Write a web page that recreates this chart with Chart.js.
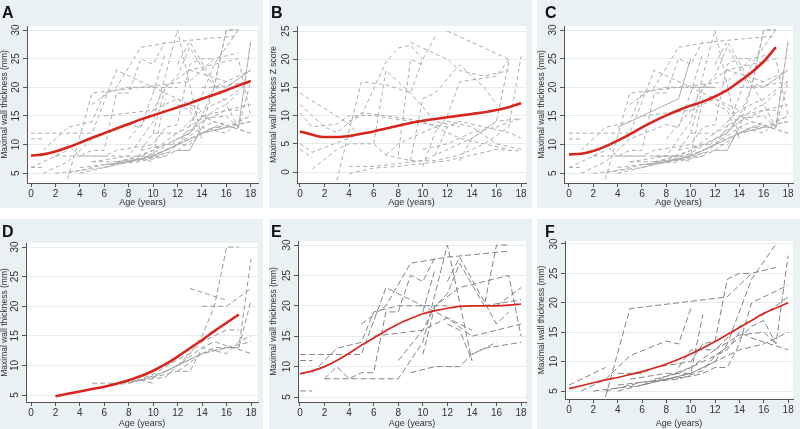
<!DOCTYPE html>
<html><head><meta charset="utf-8">
<script src="https://cdn.jsdelivr.net/npm/chart.js@4/dist/chart.umd.min.js"></script>
<style>
html,body{margin:0;padding:0;background:#fff;width:800px;height:429px;overflow:hidden;font-family:"Liberation Sans",Arial,sans-serif}
.panel{position:absolute;background:#eaf1f3}
.panel canvas{position:absolute;left:0;top:0}
.lbl{position:absolute;font-weight:bold;font-size:16px;color:#111;line-height:1;font-family:"Liberation Sans",Arial,sans-serif}
</style></head><body>
<div id="root"></div>
<script>
// ---------- data ----------
const xTicks = [0,2,4,6,8,10,12,14,16,18];
const yTicksMM = [5,10,15,20,25,30];
const yTicksZ = [0,5,10,15,20,25];
const xTitle = 'Age (years)';
const yTitleMM = 'Maximal wall thickness (mm)';
const yTitleZ = 'Maximal wall thickness Z score';

// individual patient trajectories [age, value]
const linesD = [
  [[5,7],[7,7],[9,7.5],[10,7]],
  [[6,6.5],[8,7],[10,8],[12,9],[13,9],[14,13],[15,14],[18,12]],
  [[7,7],[9,7.5],[11,9],[12,10],[14,14],[15,15],[16,16],[17,16]],
  [[8,7],[10,8.5],[12,11],[13,12],[14,15],[15,20],[16,30],[17,30]],
  [[9,7.5],[11,8],[12,10],[14,12],[16,13],[17,13],[18,28]],
  [[13,23],[16,21]],
  [[14,20],[16,20],[18,23]],
  [[10,8],[12,10],[14,13],[16,12],[17,14],[18,15]],
  [[11,9],[13,11],[15,13],[17,13],[18,21]],
  [[12,9],[14,12],[16,13],[18,14]]
];
const linesE = [
  [[0,12],[5,12],[7,23],[14,16]],
  [[0,11],[1,11]],
  [[0,6],[1,6]],
  [[1,9],[3,13],[5,14],[6,19],[8,20],[12,20]],
  [[2,8],[3,10],[4,8],[5,9],[6,9],[7,19],[8,19],[9,25],[10,24],[11,28]],
  [[2,8],[8,8],[10,14],[12,30],[14,11]],
  [[5,17],[7,20],[9,27],[12,28],[17,29]],
  [[8,11],[10,16],[11,20],[13,23],[17,25],[18,15]],
  [[9,9],[11,10],[13,10],[14,12],[15,13],[18,14]],
  [[10,12],[11,20],[12,22],[13,27],[15,20],[16,30],[17,30]],
  [[6,15],[10,16],[12,18],[14,15],[18,17]],
  [[12,17],[13,16],[14,11]],
  [[12,24],[13,28],[16,17],[17,19]],
  [[14,12],[16,14]],
  [[16,20],[18,23]],
  [[15,20],[18,21]],
  [[10,19],[11,26]]
];
const linesF = [
  [[0,6],[3,9]],
  [[1,5],[3,7],[5,11],[8,13.5],[9,13],[10,19]],
  [[3,4],[5,19],[13,21],[15,25],[17,26]],
  [[2,5],[4,5.5],[6,6],[8,7],[10,8],[12,10],[13,13],[15,24],[17,30]],
  [[3,5],[6,6.5],[8,7],[10,7.5],[11,8],[12,9],[13,9],[14,13],[15,20],[18,23]],
  [[4,8],[6,8],[7,9],[10,10],[11,13],[12,13.5],[13,24],[14,25],[15,25]],
  [[5,7],[8,8],[10,8],[11,18]],
  [[4,6],[6,6.5],[9,7],[11,8.5],[12,11],[14,14],[15,16],[16,17],[17,13],[18,28]],
  [[4,5],[7,6.5],[9,7.5],[10,8],[12,10],[14,12],[16,13],[18,15]],
  [[6,6],[8,7.5],[10,9],[12,11],[13,12],[14,15],[15,14],[18,12]],
  [[7,7],[9,8],[10,9],[12,12],[14,16],[16,18],[18,21]],
  [[9,9],[10,12],[12,12],[14,14.5],[16,15],[17,13]]
];
const solidC = [
  [[4,13],[9,18],[10,25]],
  [[7,8],[9,8]],
  [[10,20],[12,20]]
];
const linesB = [
  [[0,14],[4,8.5],[5,6]],
  [[0,12],[2,8],[3,7],[5,10.5],[7,10],[10,9],[13,6],[15,5],[17,4]],
  [[0,10.5],[1,8],[3,8.5],[4,10],[6,10],[9,9],[12,8]],
  [[0,5],[1,3.5],[4,6],[5,7]],
  [[0,4],[1,2.5]],
  [[1,0.5],[3,4],[4,5],[6,5],[7,3],[9,2],[11,2],[13,3],[15,5],[17,8],[18,20.5]],
  [[3,-1.5],[5,16],[7,15.5],[9,14],[10,20],[11,24]],
  [[4,1],[6,1],[8,1.5],[10,2],[12,4],[14,6],[16,9],[18,9.5]],
  [[4,-0.3],[6,0.7],[8,1],[10,1.5],[12,2],[14,3],[16,4],[18,3.7]],
  [[4,9],[5,10],[7,19.5],[8,22],[9,22.5],[10,20]],
  [[6,5],[7,18],[9,14],[11,9],[13,8]],
  [[9,23],[12,20],[13,18],[15,17],[17,18]],
  [[12,25],[17,20]],
  [[9,2],[10,13],[11,14],[13,19],[15,15],[16,12]],
  [[10,1],[11,7],[12,10],[13,16],[16,17],[17,20]],
  [[11,3],[12,8],[13,9],[15,8],[17,7],[18,6]],
  [[10,4],[12,5],[14,7],[16,8],[18,9.5]],
  [[8,3],[9,20],[10,19]],
  [[13,2],[14,6],[16,9],[17,19.5]],
  [[7,3],[8,5],[10,7],[12,9],[14,8],[16,5],[18,4]]
];

// fitted mean curves (red)
const agesA = [0,1,2,3,4,5,6,7,8,9,10,11,12,13,14,15,16,17,18];
const redA = [8.1,8.3,8.8,9.5,10.3,11.2,12.0,12.8,13.6,14.4,15.1,15.8,16.5,17.2,18.0,18.7,19.5,20.3,21.1];
const agesB = [0,1,2,3,4,5,6,7,8,9,10,11,12,13,14,15,16,17,18];
const redB = [7.2,6.6,6.2,6.2,6.4,6.8,7.2,7.7,8.2,8.7,9.1,9.4,9.7,10.0,10.3,10.6,11.0,11.5,12.2];
const agesC = [0,1,2,3,4,5,6,7,8,9,10,11,12,13,14,15,16,17];
const redC = [8.3,8.4,8.9,9.7,10.7,11.8,13.0,14.1,15.1,16.0,16.8,17.5,18.4,19.5,21.0,22.6,24.5,27.0];
const agesD = [2,3,4,5,6,7,8,9,10,11,12,13,14,15,16,17];
const redD = [4.8,5.2,5.6,6.0,6.4,6.9,7.5,8.2,9.1,10.2,11.5,12.9,14.3,15.8,17.2,18.6];
const agesE = [0,1,2,3,4,5,6,7,8,9,10,11,12,13,14,15,16,17,18];
const redE = [8.8,9.3,10.0,11.0,12.2,13.5,14.7,15.9,17.0,17.9,18.7,19.2,19.6,19.9,20.0,20.0,20.0,20.1,20.3];
const agesF = [0,1,2,3,4,5,6,7,8,9,10,11,12,13,14,15,16,17,18];
const redF = [5.4,5.9,6.4,6.9,7.3,7.8,8.3,8.9,9.6,10.4,11.3,12.3,13.4,14.6,15.8,17.0,18.2,19.1,20.0];

// ---------- layout ----------
const panels = [
  {id:'A', pos:[0,0,263,208], area:[27,26,258,183], x:[-0.33,18.6], y:[3.3,30.7], yt:yTicksMM, title:yTitleMM,
   grey:[...linesD,...linesE,...linesF], solid:[], ages:agesA, red:redA, gc:'#adadad', rw:2.6, dash:[4,3]},
  {id:'B', pos:[269,0,263,208], area:[28,26,257,183], x:[-0.24,18.4], y:[-1.95,25.9], yt:yTicksZ, title:yTitleZ,
   grey:linesB, solid:[], ages:agesB, red:redB, gc:'#adadad', rw:2.6, dash:[4,3]},
  {id:'C', pos:[537,0,263,208], area:[27,26,256,183], x:[-0.41,18.41], y:[3.3,30.7], yt:yTicksMM, title:yTitleMM,
   grey:[...linesD,...linesE,...linesF], solid:solidC, ages:agesC, red:redC, gc:'#adadad', rw:2.6, dash:[4,3]},
  {id:'D', pos:[0,219,263,210], area:[26,24,258,183], x:[-0.41,18.57], y:[3.82,30.68], yt:yTicksMM, title:yTitleMM,
   grey:linesD, solid:[], ages:agesD, red:redD, gc:'#9a9a9a', rw:2.6, dash:[5,3]},
  {id:'E', pos:[269,219,263,210], area:[29,22,257,183], x:[-0.16,18.4], y:[4.18,30.66], yt:yTicksMM, title:yTitleMM,
   grey:linesE, solid:[], ages:agesE, red:redE, gc:'#858585', rw:1.7, dash:[6,3]},
  {id:'F', pos:[537,219,263,210], area:[28,22,256,180], x:[-0.33,18.4], y:[3.64,30.5], yt:yTicksMM, title:yTitleMM,
   grey:linesF, solid:[], ages:agesF, red:redF, gc:'#858585', rw:1.7, dash:[6,3]}
];

const bgPlugin = {
  id:'plotbg',
  beforeDraw(chart){
    const a = chart.chartArea, ctx = chart.ctx;
    ctx.save(); ctx.fillStyle = '#ffffff';
    ctx.fillRect(a.left, a.top, a.right-a.left, a.bottom-a.top);
    ctx.restore();
  }
};

const root = document.getElementById('root');
const FONT = '"Liberation Sans", Arial, sans-serif';
panels.forEach(p => {
  const [L,T,W,H] = p.pos;
  const div = document.createElement('div');
  div.className = 'panel';
  div.style.cssText = `left:${L}px;top:${T}px;width:${W}px;height:${H}px`;
  const cv = document.createElement('canvas');
  cv.width = W; cv.height = H; cv.style.width = W+'px'; cv.style.height = H+'px';
  div.appendChild(cv);
  const lb = document.createElement('div');
  lb.className = 'lbl'; lb.textContent = p.id;
  lb.style.left = (p.id==='C'||p.id==='F' ? 8 : 2) + 'px';
  lb.style.top = '5px';
  div.appendChild(lb);
  root.appendChild(div);

  const ds = [];
  ds.push({data: p.ages.map((a,i)=>({x:a,y:p.red[i]})), borderColor:'#d7261e', borderWidth:p.rw,
           cubicInterpolationMode:'monotone', pointRadius:0, order:0});
  p.solid.forEach(l => ds.push({data:l.map(q=>({x:q[0],y:q[1]})), borderColor:p.gc, borderWidth:1,
           pointRadius:0, tension:0, order:1}));
  p.grey.forEach(l => ds.push({data:l.map(q=>({x:q[0],y:q[1]})), borderColor:p.gc, borderWidth:1,
           borderDash:p.dash, pointRadius:0, tension:0, order:2}));

  const [al,at,ar,ab] = p.area;
  new Chart(cv, {
    type:'line',
    data:{datasets:ds},
    plugins:[bgPlugin],
    options:{
      responsive:false, animation:false, devicePixelRatio:1,
      layout:{padding:{left:0, top:at, right:W-ar, bottom:0}},
      plugins:{legend:{display:false}, tooltip:{enabled:false}, title:{display:false}},
      elements:{line:{fill:false}},
      scales:{
        x:{type:'linear', min:p.x[0], max:p.x[1],
           afterBuildTicks:s=>{s.ticks = xTicks.map(v=>({value:v}));},
           afterFit:s=>{s.height = H-ab;},
           border:{display:true, color:'#555', width:1},
           grid:{drawOnChartArea:false, drawTicks:true, tickLength:4, tickColor:'#555'},
           ticks:{color:'#333', font:{family:FONT, size:10}, padding:1, maxRotation:0, autoSkip:false},
           title:{display:true, text:xTitle, color:'#333', font:{family:FONT, size:9}, padding:{top:1,bottom:0}}},
        y:{type:'linear', min:p.y[0], max:p.y[1],
           afterBuildTicks:s=>{s.ticks = p.yt.map(v=>({value:v}));},
           afterFit:s=>{s.width = al;},
           border:{display:true, color:'#555', width:1},
           grid:{drawOnChartArea:true, color:'#e4edf0', drawTicks:true, tickLength:4, tickColor:'#555'},
           ticks:{color:'#333', font:{family:FONT, size:10}, padding:1, minRotation:90, maxRotation:90, autoSkip:false, crossAlign:'center'},
           title:{display:true, text:p.title, color:'#333', font:{family:FONT, size:8.5}, padding:{top:0,bottom:0}}}
      }
    }
  });
});
</script>
</body></html>
